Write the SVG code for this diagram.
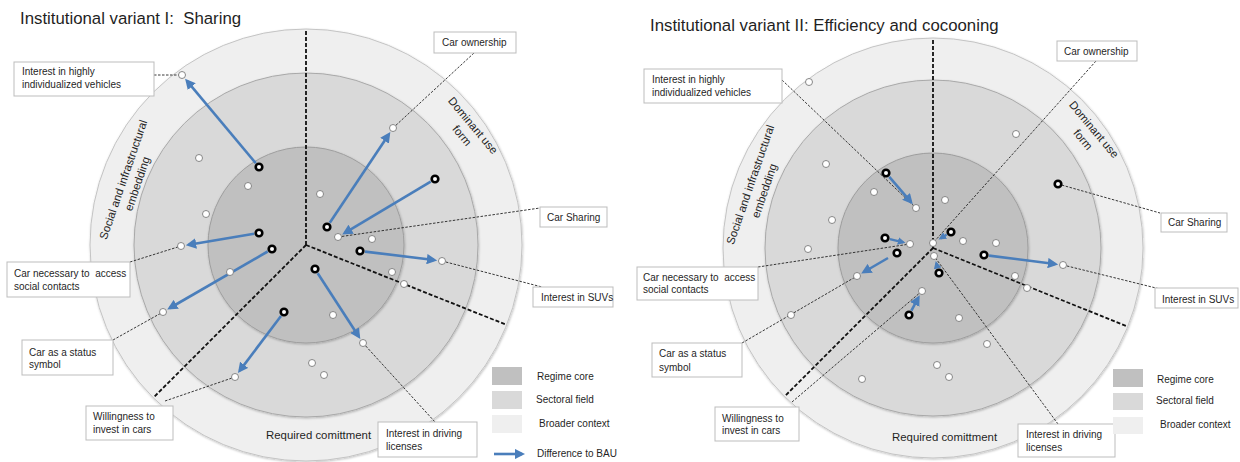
<svg xmlns="http://www.w3.org/2000/svg" width="1240" height="462" viewBox="0 0 1240 462">
  <defs>
    <style>
      .t{font-family:"Liberation Sans",Arial,sans-serif;fill:#1f1f1f;white-space:pre}
      .title{font-size:16.8px}
      .lbl{font-size:10px}
      .sec{font-size:11.4px}
      .box{fill:#fff;stroke:#bdbdbd;stroke-width:1}
      .r3{fill:#efefef;stroke:#c4c4c4;stroke-width:1}
      .r2{fill:#d9d9d9;stroke:#a9a9a9;stroke-width:1}
      .r1{fill:#c0c0c0;stroke:#9e9e9e;stroke-width:1}
      .div{stroke:#111;stroke-width:1.8;stroke-dasharray:4 2;fill:none}
      .lead{stroke:#222;stroke-width:0.9;stroke-dasharray:2.5 1.5;fill:none}
      .arr{stroke:#4a7ebb;stroke-width:2.6;fill:none;marker-end:url(#ah)}
      .arrs{stroke:#4a7ebb;stroke-width:2.4;fill:none;marker-end:url(#ahs)}
      .wd{fill:#fff;stroke:#7a7a7a;stroke-width:0.9}
      .bd{fill:#fff;stroke:#000;stroke-width:2.6}
      .sw1{fill:#c0c0c0}
      .sw2{fill:#d9d9d9}
      .sw3{fill:#efefef}
    </style>
    <marker id="ah" viewBox="0 0 10 10" refX="7" refY="5" markerWidth="4" markerHeight="4" orient="auto" markerUnits="strokeWidth">
      <path d="M0,0 L10,5 L0,10 z" fill="#4a7ebb"/>
    </marker>
    <marker id="ahs" viewBox="0 0 10 10" refX="7" refY="5" markerWidth="3.2" markerHeight="3.2" orient="auto" markerUnits="strokeWidth">
      <path d="M0,0 L10,5 L0,10 z" fill="#4a7ebb"/>
    </marker>
    <filter id="sh" x="-10%" y="-10%" width="120%" height="120%">
      <feDropShadow dx="0.6" dy="1" stdDeviation="1.3" flood-color="#000" flood-opacity="0.25"/>
    </filter>
  </defs>

  <rect width="1240" height="462" fill="#fff"/>

  <!-- ===================== Variant I: Sharing ===================== -->
  <g id="variant-1">
    <text class="t title" x="20" y="24" xml:space="preserve">Institutional variant I:  Sharing</text>

    <g id="v1-rings">
      <circle class="r3" cx="306" cy="245" r="216" filter="url(#sh)"/>
      <circle class="r2" cx="306" cy="245" r="172" filter="url(#sh)"/>
      <circle class="r1" cx="306" cy="245" r="98" filter="url(#sh)"/>
    </g>

    <g id="v1-sectors">
      <path class="div" d="M306,245 L306,29"/>
      <path class="div" d="M306,245 L153.3,397.7"/>
      <path class="div" d="M306,245 L506.7,324.9"/>
      <text class="t sec" transform="translate(127,181) rotate(-71)" text-anchor="middle">Social and infrastructural</text>
      <text class="t sec" transform="translate(141,185) rotate(-71)" text-anchor="middle">embedding</text>
      <text class="t sec" transform="translate(470,128) rotate(50)" text-anchor="middle">Dominant use</text>
      <text class="t sec" transform="translate(459,138) rotate(50)" text-anchor="middle">form</text>
      <text class="t sec" x="266" y="439">Required comittment</text>
    </g>

    <g id="v1-connectors">
      <path class="lead" d="M154,75 L182,75"/>
      <path class="lead" d="M474,53 L393,128"/>
      <path class="lead" d="M338,237 L540,208"/>
      <path class="lead" d="M442,261 L542,287"/>
      <path class="lead" d="M130,262 L181,246"/>
      <path class="lead" d="M113,340 L163,312"/>
      <path class="lead" d="M165,401 L235,377"/>
      <path class="lead" d="M363,343 L435,422"/>

      <path class="arr" d="M255.8,163.2 L187.1,81.1"/>
      <path class="arr" d="M329.8,222.8 L388.6,134.7"/>
      <path class="arr" d="M430.7,181.6 L344.9,232.9"/>
      <path class="arr" d="M365,251.6 L434.1,260"/>
      <path class="arr" d="M254.1,233.8 L188.9,244.7"/>
      <path class="arr" d="M267.7,251.5 L169.9,308"/>
      <path class="arr" d="M281,316 L239.8,370.6"/>
      <path class="arr" d="M317.7,273.2 L358.6,336.3"/>
    </g>

    <g id="v1-points">
      <circle class="wd" cx="182" cy="75" r="3.5"/>
      <circle class="wd" cx="393" cy="128" r="3.5"/>
      <circle class="wd" cx="338" cy="237" r="3.5"/>
      <circle class="wd" cx="442" cy="261" r="3.5"/>
      <circle class="wd" cx="181" cy="246" r="3.5"/>
      <circle class="wd" cx="163" cy="312" r="3.5"/>
      <circle class="wd" cx="235" cy="377" r="3.5"/>
      <circle class="wd" cx="363" cy="343" r="3.5"/>
      <circle class="wd" cx="199" cy="158" r="3.5"/>
      <circle class="wd" cx="248" cy="186" r="3.5"/>
      <circle class="wd" cx="206" cy="214" r="3.5"/>
      <circle class="wd" cx="230" cy="272" r="3.5"/>
      <circle class="wd" cx="320" cy="194" r="3.5"/>
      <circle class="wd" cx="372" cy="239" r="3.5"/>
      <circle class="wd" cx="392" cy="272" r="3.5"/>
      <circle class="wd" cx="404" cy="284" r="3.5"/>
      <circle class="wd" cx="333" cy="315" r="3.5"/>
      <circle class="wd" cx="312" cy="363" r="3.5"/>
      <circle class="wd" cx="324" cy="375" r="3.5"/>

      <circle class="bd" cx="259" cy="167" r="3.3"/>
      <circle class="bd" cx="327" cy="227" r="3.3"/>
      <circle class="bd" cx="435" cy="179" r="3.3"/>
      <circle class="bd" cx="360" cy="251" r="3.3"/>
      <circle class="bd" cx="259" cy="233" r="3.3"/>
      <circle class="bd" cx="272" cy="249" r="3.3"/>
      <circle class="bd" cx="284" cy="312" r="3.3"/>
      <circle class="bd" cx="315" cy="269" r="3.3"/>
    </g>

    <g id="v1-individualized-vehicles">
      <rect class="box" x="14" y="62" width="140" height="34"/>
      <text class="t lbl" x="22" y="75">Interest in highly</text>
      <text class="t lbl" x="22" y="88">individualized vehicles</text>
    </g>
    <g id="v1-car-ownership">
      <rect class="box" x="434" y="32" width="82" height="21"/>
      <text class="t lbl" x="442" y="46">Car ownership</text>
    </g>
    <g id="v1-car-sharing">
      <rect class="box" x="540" y="207" width="67" height="20"/>
      <text class="t lbl" x="547" y="220.5">Car Sharing</text>
    </g>
    <g id="v1-suvs">
      <rect class="box" x="533" y="287" width="80" height="20"/>
      <text class="t lbl" x="541" y="300.5">Interest in SUVs</text>
    </g>
    <g id="v1-social-contacts">
      <rect class="box" x="7" y="262" width="123" height="35"/>
      <text class="t lbl" x="14" y="276.5" xml:space="preserve">Car necessary to  access</text>
      <text class="t lbl" x="14" y="289.5">social contacts</text>
    </g>
    <g id="v1-status-symbol">
      <rect class="box" x="22" y="340" width="91" height="35"/>
      <text class="t lbl" x="29" y="355.5">Car as a status</text>
      <text class="t lbl" x="29" y="368">symbol</text>
    </g>
    <g id="v1-invest">
      <rect class="box" x="86" y="406" width="87" height="34"/>
      <text class="t lbl" x="93" y="419.5">Willingness to</text>
      <text class="t lbl" x="93" y="432.5">invest in cars</text>
    </g>
    <g id="v1-driving-licenses">
      <rect class="box" x="378" y="422" width="99" height="35"/>
      <text class="t lbl" x="386" y="436.5">Interest in driving</text>
      <text class="t lbl" x="386" y="450">licenses</text>
    </g>

    <g id="v1-legend">
      <rect class="sw1" x="492" y="367" width="30" height="18"/>
      <rect class="sw2" x="492" y="391" width="30" height="18"/>
      <rect class="sw3" x="492" y="415" width="30" height="18"/>
      <path class="arr" d="M494,454 L522,454"/>
      <text class="t lbl" x="537" y="379.5">Regime core</text>
      <text class="t lbl" x="536" y="402.5">Sectoral field</text>
      <text class="t lbl" x="539" y="426.5">Broader context</text>
      <text class="t lbl" x="537" y="456.5">Difference to BAU</text>
    </g>
  </g>

  <!-- ============ Variant II: Efficiency and cocooning ============ -->
  <g id="variant-2">
    <text class="t title" x="650" y="31">Institutional variant II: Efficiency and cocooning</text>

    <g id="v2-rings">
      <circle class="r3" cx="933" cy="248" r="210" filter="url(#sh)"/>
      <circle class="r2" cx="933" cy="248" r="168" filter="url(#sh)"/>
      <circle class="r1" cx="933" cy="248" r="95" filter="url(#sh)"/>
    </g>

    <g id="v2-sectors">
      <path class="div" d="M933,248 L933,38"/>
      <path class="div" d="M933,248 L784.5,396.5"/>
      <path class="div" d="M933,248 L1127.7,326.7"/>
      <text class="t sec" transform="translate(754,186) rotate(-71)" text-anchor="middle">Social and infrastructural</text>
      <text class="t sec" transform="translate(768,192) rotate(-71)" text-anchor="middle">embedding</text>
      <text class="t sec" transform="translate(1091,132) rotate(50)" text-anchor="middle">Dominant use</text>
      <text class="t sec" transform="translate(1080,142) rotate(50)" text-anchor="middle">form</text>
      <text class="t sec" x="892" y="441">Required comittment</text>
    </g>

    <g id="v2-connectors">
      <path class="lead" d="M782,80 L916,208"/>
      <path class="lead" d="M1096,61 L933,243"/>
      <path class="lead" d="M1058,184 L1160,213"/>
      <path class="lead" d="M1063,265 L1160,289"/>
      <path class="lead" d="M758,267 L910,244"/>
      <path class="lead" d="M742,343 L857,276"/>
      <path class="lead" d="M792,402 L922,291"/>
      <path class="lead" d="M1058,424 L934,256"/>

      <path class="arr" d="M889.3,176.8 L910.8,201.9"/>
      <path class="arrs" d="M889.9,239.2 L903.2,242.3"/>
      <path class="arr" d="M888,258 L863.9,272"/>
      <path class="arrs" d="M946.7,234.6 L940.5,238.4"/>
      <path class="arrs" d="M937.6,268.2 L936.3,263.2"/>
      <path class="arr" d="M911.4,310.6 L918.2,298"/>
      <path class="arr" d="M989,255.6 L1055.1,264"/>
    </g>

    <g id="v2-points">
      <circle class="wd" cx="916" cy="208" r="3.5"/>
      <circle class="wd" cx="933" cy="243" r="3.5"/>
      <circle class="wd" cx="934" cy="256" r="3.5"/>
      <circle class="wd" cx="1063" cy="265" r="3.5"/>
      <circle class="wd" cx="910" cy="244" r="3.5"/>
      <circle class="wd" cx="857" cy="276" r="3.5"/>
      <circle class="wd" cx="922" cy="291" r="3.5"/>
      <circle class="wd" cx="809" cy="82" r="3.5"/>
      <circle class="wd" cx="1016" cy="134" r="3.5"/>
      <circle class="wd" cx="826" cy="164" r="3.5"/>
      <circle class="wd" cx="874" cy="192" r="3.5"/>
      <circle class="wd" cx="832" cy="220" r="3.5"/>
      <circle class="wd" cx="808" cy="249" r="3.5"/>
      <circle class="wd" cx="945" cy="200" r="3.5"/>
      <circle class="wd" cx="963" cy="241" r="3.5"/>
      <circle class="wd" cx="996" cy="243" r="3.5"/>
      <circle class="wd" cx="1015" cy="276" r="3.5"/>
      <circle class="wd" cx="1027" cy="288" r="3.5"/>
      <circle class="wd" cx="959" cy="318" r="3.5"/>
      <circle class="wd" cx="987" cy="344" r="3.5"/>
      <circle class="wd" cx="937" cy="365" r="3.5"/>
      <circle class="wd" cx="949" cy="377" r="3.5"/>
      <circle class="wd" cx="862" cy="379" r="3.5"/>
      <circle class="wd" cx="791" cy="315" r="3.5"/>

      <circle class="bd" cx="886" cy="173" r="3.3"/>
      <circle class="bd" cx="885" cy="238" r="3.3"/>
      <circle class="bd" cx="897" cy="253" r="3.3"/>
      <circle class="bd" cx="951" cy="232" r="3.3"/>
      <circle class="bd" cx="939" cy="273" r="3.3"/>
      <circle class="bd" cx="909" cy="315" r="3.3"/>
      <circle class="bd" cx="984" cy="255" r="3.3"/>
      <circle class="bd" cx="1058" cy="184" r="3.3"/>
    </g>

    <g id="v2-individualized-vehicles">
      <rect class="box" x="644" y="69" width="138" height="34"/>
      <text class="t lbl" x="652" y="83">Interest in highly</text>
      <text class="t lbl" x="652" y="96">individualized vehicles</text>
    </g>
    <g id="v2-car-ownership">
      <rect class="box" x="1057" y="41" width="80" height="20"/>
      <text class="t lbl" x="1064" y="54.5">Car ownership</text>
    </g>
    <g id="v2-car-sharing">
      <rect class="box" x="1161" y="213" width="66" height="19"/>
      <text class="t lbl" x="1168" y="226">Car Sharing</text>
    </g>
    <g id="v2-suvs">
      <rect class="box" x="1155" y="288" width="83" height="20"/>
      <text class="t lbl" x="1162" y="302.5">Interest in SUVs</text>
    </g>
    <g id="v2-social-contacts">
      <rect class="box" x="637" y="267" width="121" height="33"/>
      <text class="t lbl" x="643" y="280.5" xml:space="preserve">Car necessary to  access</text>
      <text class="t lbl" x="643" y="293">social contacts</text>
    </g>
    <g id="v2-status-symbol">
      <rect class="box" x="652" y="343" width="90" height="34"/>
      <text class="t lbl" x="659" y="357">Car as a status</text>
      <text class="t lbl" x="659" y="370.5">symbol</text>
    </g>
    <g id="v2-invest">
      <rect class="box" x="715" y="407" width="84" height="34"/>
      <text class="t lbl" x="722" y="421.5">Willingness to</text>
      <text class="t lbl" x="722" y="433.5">invest in cars</text>
    </g>
    <g id="v2-driving-licenses">
      <rect class="box" x="1018" y="424" width="97" height="33"/>
      <text class="t lbl" x="1026" y="437.5">Interest in driving</text>
      <text class="t lbl" x="1026" y="450.5">licenses</text>
    </g>

    <g id="v2-legend">
      <rect class="sw1" x="1113" y="369" width="30" height="18"/>
      <rect class="sw2" x="1113" y="393" width="30" height="17"/>
      <rect class="sw3" x="1113" y="417" width="30" height="17"/>
      <text class="t lbl" x="1157" y="382.5">Regime core</text>
      <text class="t lbl" x="1156" y="403.5">Sectoral field</text>
      <text class="t lbl" x="1160" y="427.5">Broader context</text>
    </g>
  </g>
</svg>
